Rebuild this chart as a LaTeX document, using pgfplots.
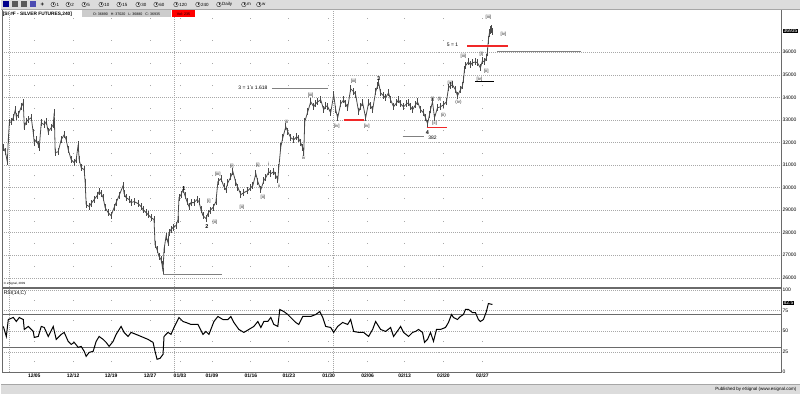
\documentclass[border=0pt]{standalone}
\usepackage{pgfplots}
\pgfplotsset{compat=1.18}
\usepackage{pgfplotstable}
\usepackage{fontspec}
\setmainfont{Liberation Sans}
\definecolor{barg}{HTML}{DCDCDC}
\definecolor{pricec}{HTML}{4A4A4A}
\definecolor{gridc}{HTML}{A8A8A8}
\definecolor{frame}{HTML}{6A6A6A}
\definecolor{ered}{HTML}{F02828}
\definecolor{lgray}{HTML}{808080}
\newcommand{\fs}[1]{\fontsize{#1}{#1}\selectfont}

\pgfplotstableread{
x c
2 31766
4 31589
6 31147
7 32120
8 32872
10 32917
12 33094
14 33448
15 33138
17 33226
20 33580
22 33757
23 32695
25 32917
27 33005
30 33094
32 32430
33 31987
35 32120
37 31899
38 31766
40 32872
43 32784
45 32917
47 32474
50 32651
52 32784
53 33315
54 31545
57 31589
60 32120
63 32341
65 32120
67 31678
70 31235
73 31102
75 31235
77 31899
78 31235
80 30881
83 30793
84 30217
85 29244
88 29155
90 29288
93 29465
96 29642
98 29819
100 29731
102 29554
104 29111
107 28890
110 28757
113 29111
115 29332
118 29642
122 30084
123 29731
125 29554
128 29465
130 29332
133 29377
137 29288
140 29155
142 29023
145 28890
147 28801
150 28668
153 28580
154 27474
156 27252
158 26943
160 26810
161 26589
162 26279
163 27252
165 27828
167 27562
168 28005
170 28138
172 28226
175 28315
177 28580
178 29554
180 29686
182 29908
184 29642
186 29377
188 29155
190 29332
193 29332
196 29465
198 29377
200 29023
202 28757
205 28624
207 28845
209 28978
212 29111
215 29377
217 30262
220 30394
223 30041
225 29908
227 30217
230 30483
232 30704
235 30217
237 29996
240 29686
243 29775
247 29863
250 29996
252 30084
255 30615
257 30262
260 29908
263 30306
265 30439
268 30704
270 30615
273 30704
275 30527
277 30350
278 30881
280 31810
282 32208
285 32695
287 32474
290 32208
293 32120
296 32253
298 32164
300 31987
302 31766
303 31545
304 32917
307 33359
310 33802
313 33580
315 33713
317 33802
320 33890
323 33448
325 33624
327 33580
330 33315
333 34111
335 33448
337 33094
340 33713
343 33890
345 33713
347 33536
350 34377
353 34244
355 34111
358 33359
360 33580
362 33757
365 33094
368 33757
370 33624
372 33448
375 34244
377 34510
378 34642
380 34200
383 34067
385 33979
388 34200
390 33890
393 33580
396 33757
398 33890
400 33713
403 33580
406 33713
408 33757
410 33580
412 33448
415 33669
417 33802
420 33448
423 33315
425 33094
427 32828
429 33226
430 33448
432 33802
434 33094
437 33536
440 33580
443 33669
446 33802
448 34421
450 34510
452 34554
455 34333
457 34067
460 34333
462 34510
463 34775
464 35218
465 35395
468 35571
470 35439
472 35527
475 35571
477 35527
480 35306
482 35616
484 35571
486 35749
487 36014
488 36545
489 36855
490 36988
491 37032
492 36935
}\pricedata

\pgfplotstableread{
x r
2 55.8
5 43.6
7 64.2
12 66.7
15 61.8
18 66.7
22 64.2
23 52.1
27 55.8
32 49.7
33 42.4
37 43.6
40 55.8
43 54.5
47 43.6
52 55.8
55 40.0
60 46.1
63 48.5
67 37.6
70 33.9
73 36.4
77 30.3
80 31.5
83 25.5
85 19.4
88 24.2
92 25.5
95 37.6
98 43.6
102 40.0
105 36.4
108 31.5
112 37.6
115 46.1
120 55.8
123 48.5
127 43.6
130 48.5
135 46.1
140 43.6
147 40.0
152 36.4
154 25.5
156 15.8
159 17.0
162 21.8
163 43.6
167 48.5
170 46.1
173 54.5
178 66.7
182 61.8
185 60.6
190 58.2
197 58.2
202 46.1
205 49.7
208 46.1
213 61.8
217 67.9
222 64.2
227 64.2
230 67.9
233 60.6
238 52.1
243 48.5
248 52.1
253 55.8
257 61.8
260 54.5
263 61.8
267 61.8
270 66.7
273 58.2
277 55.8
279 76.4
283 73.9
287 70.3
292 64.2
295 60.6
298 58.2
302 67.9
305 67.9
310 67.9
315 70.3
319 73.9
322 66.7
325 55.8
330 54.5
333 48.5
337 55.8
342 60.6
347 58.2
350 64.2
353 49.7
358 48.5
363 48.5
368 43.6
372 52.1
375 61.8
380 52.1
385 49.7
390 54.5
393 43.6
398 52.1
400 55.8
403 48.5
408 43.6
412 48.5
415 49.7
418 52.1
422 48.5
424 36.4
427 40.0
430 48.5
433 37.6
436 52.1
440 52.1
445 54.5
448 60.6
451 70.3
453 66.7
457 64.2
460 67.9
463 70.3
465 76.4
468 76.4
472 72.7
475 72.7
478 64.2
480 61.8
483 64.2
486 73.9
488 83.6
492 82.5
}\rsidata

\begin{document}
\begin{tikzpicture}[
  sl/.style={font=\fs{4.5}, inner sep=0.3pt, text=black!85},
  wl/.style={font=\bfseries\fs{5.5}, inner sep=0.3pt, text=black},
  ml/.style={font=\fs{5}, inner sep=0.3pt, text=black}]
\fill[white] (0pt,0pt) rectangle (800pt,395pt);

% ---------------- price panel ----------------
\begin{axis}[
  at={(1pt,107pt)}, anchor=south west, scale only axis,
  width=781pt, height=279pt,
  xmin=1, xmax=782, ymin=25571, ymax=37917,
  axis line style={frame, line width=0.7pt},
  xtick={33,72,110,149,179,211,250,288,328,367,404,443,482}, xticklabels={},
  ytick={26000,27000,...,36000},
  scaled y ticks=false,
  yticklabel pos=right,
  tick style={draw=none},
  yticklabel style={font=\fs{5}, inner sep=0.6pt},
  /pgf/number format/assume math mode=true,
  /pgf/number format/set thousands separator={},
  xmajorgrids, ymajorgrids,
  x grid style={gridc, line width=0.8pt, dash pattern=on 0.8pt off 21.8pt, dash phase=1.6pt},
  y grid style={gridc, line width=0.45pt, dash pattern=on 1pt off 1pt},
  clip=false,
]
\draw[gridc, line width=0.5pt, dash pattern=on 1pt off 1pt] (axis cs:8,25571) -- (axis cs:8,37917);
\draw[gridc, line width=0.5pt, dash pattern=on 1pt off 1pt] (axis cs:173,25571) -- (axis cs:173,37917);
\draw[gridc, line width=0.5pt, dash pattern=on 1pt off 1pt] (axis cs:333,25571) -- (axis cs:333,37917);

\addplot[color=pricec, line width=0.8pt, error bars/.cd, y dir=both, y fixed=160,
  error bar style={color=pricec, line width=0.8pt}, error mark=none]
  table[x=x,y=c]{\pricedata};

% anchor points of annotation level lines (drawn after the axis)
\coordinate (g1a) at (axis cs:162,26124); \coordinate (g1b) at (axis cs:221,26124);
\coordinate (g2a) at (axis cs:271,34377); \coordinate (g2b) at (axis cs:327,34377);
\coordinate (g3a) at (axis cs:402,32253); \coordinate (g3b) at (axis cs:423,32253);
\coordinate (g4a) at (axis cs:497,36014); \coordinate (g4b) at (axis cs:581,36014);
\coordinate (k1a) at (axis cs:475,34686); \coordinate (k1b) at (axis cs:494,34686);
\coordinate (r1a) at (axis cs:343,33005); \coordinate (r1b) at (axis cs:363,33005);
\coordinate (r2a) at (axis cs:426,32651); \coordinate (r2b) at (axis cs:447,32651);
\coordinate (r3a) at (axis cs:467,36280); \coordinate (r3b) at (axis cs:508,36280);

\node[wl] at (axis cs:183,29952) {1};
\node[wl] at (axis cs:206,28270) {2};
\node[sl] at (axis cs:208,29376) {[i]};
\node[sl] at (axis cs:214,28447) {[ii]};
\node[sl] at (axis cs:217,30572) {[iii]};
\node[sl] at (axis cs:231,30925) {[i]};
\node[sl] at (axis cs:241,29111) {[ii]};
\node[sl] at (axis cs:257,30969) {[i]};
\node[sl] at (axis cs:262,29554) {[ii]};
\node[sl] at (axis cs:268,31058) {i};
\node[sl] at (axis cs:278,30085) {ii};
\node[sl] at (axis cs:286,32917) {iii};
\node[sl] at (axis cs:303,31324) {iv};
\node[sl] at (axis cs:310,34067) {[iii]};
\node[sl] at (axis cs:336,32695) {[iv]};
\node[sl] at (axis cs:353,34687) {[iii]};
\node[sl] at (axis cs:366,32695) {[iv]};
\node[wl] at (axis cs:378,34819) {3};
\node[wl] at (axis cs:427,32430) {4};
\node[ml] at (axis cs:432,32208) {382};
\node[sl] at (axis cs:432,33890) {[i]};
\node[sl] at (axis cs:439,33890) {(i)};
\node[sl] at (axis cs:434,32828) {[ii]};
\node[sl] at (axis cs:443,33182) {(ii)};
\node[sl] at (axis cs:450,34598) {[iii]};
\node[sl] at (axis cs:458,33757) {(iv)};
\node[sl] at (axis cs:463,35837) {[iii]};
\node[sl] at (axis cs:481,35926) {[i]};
\node[sl] at (axis cs:486,35173) {[ii]};
\node[sl] at (axis cs:479,34819) {[iv]};
\node[ml] at (axis cs:452,36324) {5 = 1};
\node[sl] at (axis cs:488,37563) {[iii]};
\node[sl] at (axis cs:503,36810) {[iv]};
\node[ml] at (axis cs:252,34421) {3 = 1 x 1.618};
\node[anchor=west, font=\fs{3}, inner sep=0.3pt] at (axis cs:2,25748) {\textcopyright{} eSignal, 2009};
\end{axis}

\draw[lgray, line width=1pt] (g1a) -- (g1b);
\draw[lgray, line width=1pt] (g2a) -- (g2b);
\draw[lgray, line width=1pt] (g3a) -- (g3b);
\draw[lgray, line width=1pt] (g4a) -- (g4b);
\draw[black, line width=1pt] (k1a) -- (k1b);
\draw[ered, line width=1.5pt] (r1a) -- (r1b);
\draw[ered, line width=1.5pt] (r2a) -- (r2b);
\draw[ered, line width=1.5pt] (r3a) -- (r3b);

% ---------------- RSI panel ----------------
\begin{axis}[
  at={(1pt,22pt)}, anchor=south west, scale only axis,
  width=781pt, height=84pt,
  xmin=1, xmax=782, ymin=0, ymax=102,
  axis line style={frame, line width=0.7pt},
  xtick={33,72,110,149,179,211,250,288,328,367,404,443,482},
  xticklabels={12/05,12/12,12/19,12/27,01/03,01/09,01/16,01/23,01/30,02/06,02/13,02/20,02/27},
  xticklabel style={font=\bfseries\fs{5}, inner sep=0.6pt, yshift=-1pt},
  ytick={0,25,50,75,100},
  yticklabel pos=right,
  tick style={draw=none},
  yticklabel style={font=\fs{5}, inner sep=0.6pt},
  /pgf/number format/assume math mode=true,
  xmajorgrids, ymajorgrids,
  x grid style={gridc, line width=0.8pt, dash pattern=on 0.8pt off 19.8pt, dash phase=10.3pt},
  y grid style={gridc, line width=0.45pt, dash pattern=on 1pt off 1pt},
  clip=false,
]
\draw[gridc, line width=0.5pt, dash pattern=on 1pt off 1pt] (axis cs:8,0) -- (axis cs:8,102);
\draw[gridc, line width=0.5pt, dash pattern=on 1pt off 1pt] (axis cs:173,0) -- (axis cs:173,102);
\draw[gridc, line width=0.5pt, dash pattern=on 1pt off 1pt] (axis cs:333,0) -- (axis cs:333,102);
\draw[frame, line width=0.7pt] (axis cs:1,70) -- (axis cs:782,70);
\draw[frame, line width=0.7pt] (axis cs:1,30) -- (axis cs:782,30);
\addplot[color=black, line width=1pt] table[x=x,y=r]{\rsidata};
\node[anchor=west, font=\fs{5}, inner sep=0.3pt] at (axis cs:2,96.5) {RSI(14,C)};
\end{axis}

% value highlights
\node[fill=black, text=white, font=\fs{5}, inner sep=0.6pt, anchor=west] at (783pt,364pt) {36935};
\node[fill=black, text=white, font=\fs{5}, inner sep=0.6pt, anchor=west] at (783pt,91.5pt) {82.5};

% ---------------- top toolbar ----------------
\fill[barg] (0pt,386pt) rectangle (800pt,395pt);
\draw[gray!70] (0pt,386pt) -- (800pt,386pt);
\fill[blue!55!black] (2pt,387.5pt) rectangle (8pt,393.5pt);
\fill[gray!70!black] (11pt,387.5pt) rectangle (17pt,393.5pt);
\fill[gray!70!black] (20pt,387.5pt) rectangle (26pt,393.5pt);
\fill[blue!40!gray] (29pt,387.5pt) rectangle (35pt,393.5pt);
\node[font=\bfseries\fs{6}, inner sep=0pt] at (41pt,390.5pt) {+};
\foreach \x/\t in {52/1,67/2,83/5,100/10,118/15,137/30,155/60,175/120,197/240,218/Daily,243/m,258/w} {
  \draw[gray!40!black, line width=0.4pt] (\x pt,390.5pt) circle (2.3pt);
  \draw[gray!40!black, line width=0.3pt] (\x pt,390.5pt) -- ++(0pt,1.5pt) (\x pt,390.5pt) -- ++(1.2pt,0pt);
  \node[anchor=west, font=\fs{4.5}, inner sep=0.3pt] at (\x pt+2.8pt,390.5pt) {\t};
}

% ---------------- title bar ----------------
\node[anchor=west, font=\bfseries\fs{4.8}, inner sep=0.3pt] at (1pt,381pt) {[SI \#F - SILVER FUTURES,240]};
\fill[gray!40] (81pt,377.5pt) rectangle (170pt,384.5pt);
\node[font=\fs{3.6}, inner sep=0pt] at (125.5pt,381pt) {O: 36890 \ \ H: 37020 \ \ L: 36880 \ \ C: 36935};
\fill[red] (171pt,377.5pt) rectangle (194pt,384.5pt);
\node[font=\fs{3.6}, inner sep=0pt] at (182.5pt,381pt) {Vol: 235};

% ---------------- status bar ----------------
\fill[barg] (0pt,0pt) rectangle (800pt,10pt);
\draw[gray!70] (0pt,10pt) -- (800pt,10pt);
\node[anchor=east, font=\fs{4.5}, inner sep=0.3pt] at (797pt,5pt) {Published by eSignal (www.esignal.com)};
\end{tikzpicture}
\end{document}
